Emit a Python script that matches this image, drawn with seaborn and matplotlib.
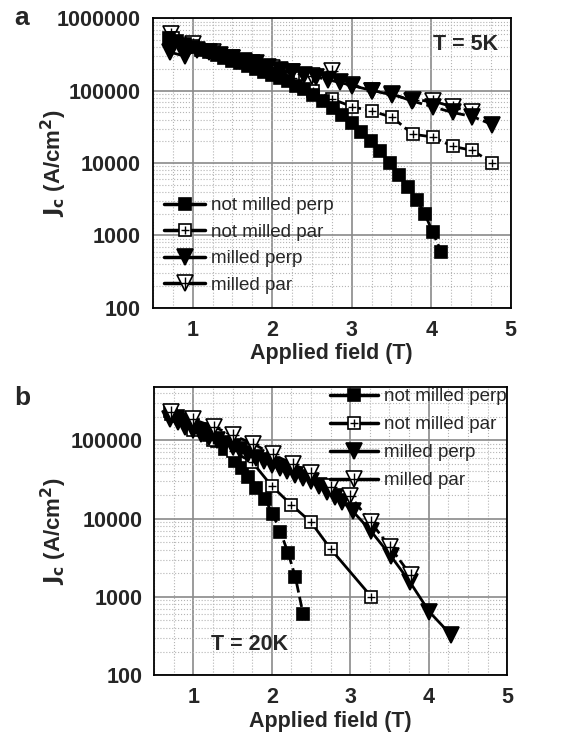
import numpy as np
import pandas as pd
import seaborn as sns
import matplotlib.pyplot as plt
from matplotlib.lines import Line2D
from matplotlib.legend_handler import HandlerTuple
from matplotlib.ticker import LogLocator, MultipleLocator, FuncFormatter, NullFormatter

# -------------------------------------------------
# 1. Data (field in T, Jc in A/cm2)
# -------------------------------------------------
# panel a, T = 5K
a_nmperp_x = [0.70, 0.80, 0.90, 1.00, 1.10, 1.20, 1.30, 1.40, 1.50, 1.60, 1.70, 1.80, 1.90,
              2.00, 2.10, 2.20, 2.30, 2.40, 2.52, 2.64, 2.76, 2.88, 3.00, 3.12, 3.24, 3.36,
              3.48, 3.60, 3.71, 3.82, 3.92, 4.02, 4.13]
a_nmperp_y = [530000, 480000, 440000, 400000, 370000, 340000, 310000, 285000, 260000, 240000,
              220000, 200000, 180000, 165000, 150000, 135000, 118000, 105000, 88000, 72000,
              57000, 46000, 36000, 27000, 20000, 14500, 10000, 6800, 4700, 3100, 2000, 1100, 590]

a_nmpar_x = [0.75, 1.00, 1.25, 1.50, 1.75, 2.00, 2.26, 2.51, 2.75, 3.01, 3.26, 3.51, 3.77,
             4.02, 4.27, 4.52, 4.77]
a_nmpar_y = [530000, 420000, 340000, 280000, 230000, 190000, 148000, 100000, 77000, 60000,
             52000, 43000, 25000, 23000, 17000, 15000, 10000]

a_mperp_x = [0.72, 0.90, 1.05, 1.20, 1.35, 1.50, 1.65, 1.80, 1.95, 2.10, 2.25, 2.40, 2.55,
             2.70, 2.85, 3.01, 3.26, 3.51, 3.76, 4.02, 4.27, 4.52, 4.77]
a_mperp_y = [340000, 300000, 370000, 340000, 310000, 285000, 260000, 240000, 215000, 195000,
             180000, 165000, 155000, 142000, 130000, 118000, 100000, 90000, 72000, 60000,
             50000, 44000, 34000]

a_mpar_x = [0.73, 1.00, 1.25, 1.50, 1.75, 2.00, 2.25, 2.50, 2.75, 3.00, 3.26, 3.51, 3.77,
            4.02, 4.27, 4.52]
a_mpar_y = [600000, 440000, 340000, 285000, 245000, 208000, 180000, 158000, 190000, 120000,
            100000, 88000, 74000, 72000, 60000, 50000]

# panel b, T = 20K
b_nmperp_x = [0.70, 0.80, 0.90, 1.00, 1.10, 1.20, 1.30, 1.41, 1.53, 1.62, 1.70, 1.80, 1.91,
              2.01, 2.11, 2.21, 2.30, 2.40]
b_nmperp_y = [235000, 205000, 180000, 158000, 138000, 118000, 98000, 78000, 55000, 44000,
              34000, 24500, 18000, 11500, 6800, 3600, 1800, 600]

b_nmpar_x = [0.72, 1.00, 1.25, 1.50, 1.75, 2.00, 2.25, 2.50, 2.75, 3.27]
b_nmpar_y = [220000, 135000, 100000, 72000, 53000, 26000, 15000, 9000, 4100, 1000]

b_mperp_x = [0.70, 0.80, 0.90, 1.00, 1.10, 1.20, 1.30, 1.40, 1.50, 1.60, 1.70, 1.80, 1.90,
             2.00, 2.10, 2.20, 2.30, 2.40, 2.50, 2.60, 2.70, 2.80, 2.90, 3.03, 3.26, 3.52,
             3.76, 4.01, 4.28]
b_mperp_y = [190000, 170000, 150000, 135000, 120000, 110000, 100000, 90000, 82000, 75000,
             67000, 60000, 54000, 48000, 44000, 40000, 36000, 33000, 30000, 26000, 22000,
             19000, 16500, 12500, 7000, 3300, 1550, 640, 330]

b_mpar_x = [0.72, 1.00, 1.27, 1.50, 1.76, 2.01, 2.27, 2.50, 2.75, 3.00, 3.26, 3.51, 3.77]
b_mpar_y = [230000, 185000, 148000, 116000, 91000, 66000, 50000, 38000, 25000, 19500,
            9000, 4300, 1900]

labels = ["not milled perp", "not milled par", "milled perp", "milled par"]

# -------------------------------------------------
# 2. Style
# -------------------------------------------------
sns.set_style("white")
plt.rcParams["font.family"] = ["Liberation Sans", "DejaVu Sans"]

fig = plt.figure(figsize=(5.77, 7.33), dpi=100)
ax_a = fig.add_axes([0.265, 0.580, 0.620, 0.395])
ax_b = fig.add_axes([0.267, 0.079, 0.612, 0.393])

# marker settings for each series: (marker, face, overlay cross)
styles = [
    dict(marker="s", mfc="black", ms=8, cross=False),
    dict(marker="s", mfc="white", ms=8, cross=True),
    dict(marker="v", mfc="black", ms=11, cross=False),
    dict(marker="v", mfc="white", ms=11, cross=True),
]


def draw_series(ax, xs, ys, st, ls, z):
    df = pd.DataFrame({"field": xs, "jc": ys})
    sns.lineplot(data=df, x="field", y="jc", ax=ax, color="black", linestyle=ls, lw=2,
                 marker=st["marker"], markersize=st["ms"], markerfacecolor=st["mfc"],
                 markeredgecolor="black", markeredgewidth=1.2, sort=False, estimator=None,
                 zorder=z)
    if st["cross"]:
        ax.plot(xs, ys, linestyle="none", marker="+", color="black",
                markersize=st["ms"] * 0.75, markeredgewidth=1.0, zorder=z + 0.1)


def legend_handles():
    handles = []
    for st in styles:
        base = Line2D([], [], color="black", lw=2.5, marker=st["marker"], markersize=st["ms"],
                      markerfacecolor=st["mfc"], markeredgecolor="black", markeredgewidth=1.2)
        if st["cross"]:
            cross = Line2D([], [], linestyle="none", marker="+", color="black",
                           markersize=st["ms"] * 0.75, markeredgewidth=1.0)
            handles.append((base, cross))
        else:
            handles.append(base)
    return handles


def style_axes(ax, ymax, label_x):
    ax.set_yscale("log")
    ax.set_xlim(0.5, 5)
    ax.set_ylim(100, ymax)
    ax.xaxis.set_major_locator(MultipleLocator(1))
    ax.xaxis.set_minor_locator(MultipleLocator(0.25))
    ax.yaxis.set_major_locator(LogLocator(base=10))
    ax.yaxis.set_minor_locator(LogLocator(base=10, subs=np.arange(2, 10)))
    ax.yaxis.set_major_formatter(FuncFormatter(lambda v, p: f"{int(round(v))}"))
    ax.yaxis.set_minor_formatter(NullFormatter())
    ax.grid(True, which="major", color="#8a8a8a", lw=1.2, ls="-")
    ax.grid(True, which="minor", color="#b5b5b5", lw=0.8, ls=":")
    ax.set_axisbelow(True)
    ax.tick_params(which="major", direction="out", length=5, width=1.3, labelsize=15.5)
    ax.tick_params(which="minor", direction="in", length=3, width=0.8)
    for lab in ax.get_xticklabels() + ax.get_yticklabels():
        lab.set_fontweight("bold")
    for sp in ax.spines.values():
        sp.set_linewidth(1.3)
        sp.set_color("black")
    ax.set_xlabel("Applied field (T)", fontsize=15.5, fontweight="bold", labelpad=2)
    ax.set_ylabel(r"$\mathbf{J_c}$ (A/cm$^\mathbf{2}$)", fontsize=16, fontweight="bold")
    ax.yaxis.set_label_coords(label_x, 0.5)


# -------------------------------------------------
# 3. Panel a (milled par drawn underneath milled perp)
# -------------------------------------------------
a_data = [(a_nmperp_x, a_nmperp_y), (a_nmpar_x, a_nmpar_y),
          (a_mperp_x, a_mperp_y), (a_mpar_x, a_mpar_y)]
a_z = [3, 2, 4, 1]
for (xs, ys), st, z in zip(a_data, styles, a_z):
    draw_series(ax_a, xs, ys, st, "--", z)
style_axes(ax_a, 1000000, -0.235)
ax_a.text(0.965, 0.91, "T = 5K", transform=ax_a.transAxes, ha="right", va="center",
          fontsize=15.5, fontweight="bold")
ax_a.legend(legend_handles(), labels, handler_map={tuple: HandlerTuple(ndivide=1)},
            loc="lower left", bbox_to_anchor=(0.0, 0.01), frameon=False, fontsize=13.5,
            handlelength=2.2, handletextpad=0.3, labelspacing=0.5, borderaxespad=0.2)
fig.text(0.025, 0.975, "a", fontsize=19, fontweight="bold", va="center")

# -------------------------------------------------
# 4. Panel b
# -------------------------------------------------
b_data = [(b_nmperp_x, b_nmperp_y), (b_nmpar_x, b_nmpar_y),
          (b_mperp_x, b_mperp_y), (b_mpar_x, b_mpar_y)]
b_lines = ["--", "-", "-", "--"]
for (xs, ys), st, ls, z in zip(b_data, styles, b_lines, [2, 3, 4, 5]):
    draw_series(ax_b, xs, ys, st, ls, z)
style_axes(ax_b, 480000, -0.24)
ax_b.text(0.27, 0.105, "T = 20K", transform=ax_b.transAxes, ha="center", va="center",
          fontsize=15.5, fontweight="bold")
ax_b.legend(legend_handles(), labels, handler_map={tuple: HandlerTuple(ndivide=1)},
            loc="upper right", bbox_to_anchor=(1.03, 1.035), frameon=False, fontsize=13.5,
            handlelength=2.6, handletextpad=0.3, labelspacing=0.58, borderaxespad=0.2)
fig.text(0.025, 0.457, "b", fontsize=19, fontweight="bold", va="center")

plt.savefig("out.png", dpi=100)
